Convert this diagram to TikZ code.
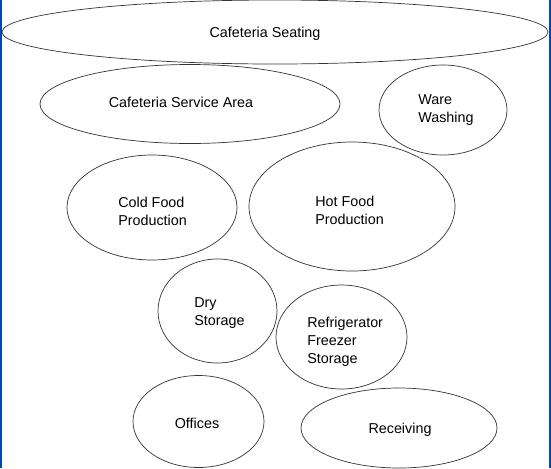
\documentclass[tikz,border=0pt]{standalone}
\usepackage{fontspec}
\setmainfont{Liberation Sans}

\tikzset{
  area/.style={draw=black!80, line width=0.5pt},
  lbl/.style={inner sep=0pt, align=left, font=\fontsize{10.2}{12.8}\selectfont},
}

\begin{document}
\begin{tikzpicture}[x=0.025cm, y=-0.025cm]

        \useasboundingbox (0, 0) rectangle (551, 468);
        % side bars of the frame
        \fill[blue!60!cyan!70!black] (0, 0) rectangle (2, 468);
        \fill[blue!60!cyan!70!black] (549, 0) rectangle (551, 468);

        % Cafeteria Seating
        \draw[area] (275, 32) ellipse (273 and 32);
        \node[lbl] (seat) at (265, 33.5) {Cafeteria Seating};

        % Cafeteria Service Area
        \draw[area] (190, 104) ellipse (150 and 39.5);
        \node[lbl] (serv) at (181, 102) {Cafeteria Service Area};

        % Ware Washing
        \draw[area] (443, 110) ellipse (64 and 45);
        \node[lbl, anchor=west] (ware) at (418, 110) {Ware\\Washing};

        % Cold Food Production
        \draw[area] (152, 207.5) ellipse (85 and 52.5);
        \node[lbl, anchor=west] (cold) at (118, 211) {Cold Food\\Production};

        % Hot Food Production
        \draw[area] (352, 206.5) ellipse (103 and 64.5);
        \node[lbl, anchor=west] (hot) at (315, 210) {Hot Food\\Production};

        % Dry Storage
        \draw[area] (217.5, 311) ellipse (59.5 and 52);
        \node[lbl, anchor=west] (dry) at (194, 313) {Dry\\Storage};

        % Refrigerator Freezer Storage
        \draw[area] (341.5, 337) ellipse (65.5 and 52);
        \node[lbl, anchor=west] (cool) at (307, 342) {Refrigerator\\Freezer\\Storage};

        % Offices
        \draw[area] (198.5, 421.5) ellipse (65.5 and 46);
        \node[lbl] (office) at (197, 423.5) {Offices};

        % Receiving
        \draw[area] (399, 428) ellipse (98 and 40);
        \node[lbl] (recv) at (400, 430) {Receiving};

\end{tikzpicture}
\end{document}
